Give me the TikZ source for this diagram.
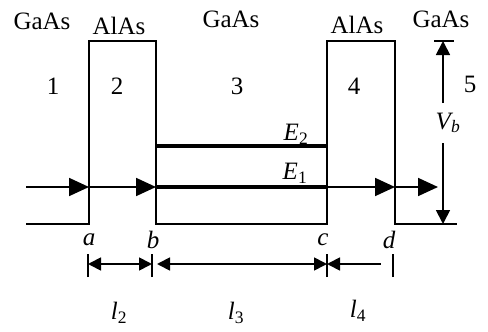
\documentclass[tikz,border=0pt]{standalone}
\usepackage{fontspec}
\setmainfont{Liberation Serif}
\usetikzlibrary{arrows.meta, positioning}
\tikzset{
    >={Triangle[length=20pt,width=18pt]},
    % Lines
    wall/.style={line width=1.8pt},
    level/.style={line width=4pt},
    beam/.style={->, line width=1.8pt},
    tick/.style={line width=1.8pt},
    vline/.style={line width=1.8pt, -{Triangle[length=14pt,width=14pt]}},
    dimarr/.style={line width=1.8pt, {Triangle[length=13pt,width=13pt]}-{Triangle[length=13pt,width=13pt]}},
    dimone/.style={line width=1.8pt, {Triangle[length=13pt,width=13pt]}-},
    % Labels
    lbl/.style={font=\fontsize{25}{28}\selectfont, inner sep=0pt},
    ilbl/.style={font=\fontsize{25}{28}\selectfont\itshape, inner sep=0pt}
}

\begin{document}
\begin{tikzpicture}[x=1pt, y=-1pt]
\useasboundingbox (0,0) rectangle (488,332);

% corners of the profile
\coordinate (a) at (89,224);
\coordinate (b) at (156,224);
\coordinate (c) at (327,224);
\coordinate (d) at (395,224);

% potential profile
\draw[wall] (26,224) -- (a) -- (89,41) -- (156,41) -- (b) -- (c)
    -- (327,41) -- (395,41) -- (d) -- (457,224);

% levels
\coordinate (e2l) at (156,146);
\coordinate (e2r) at (327,146);
\draw[level] (e2l) -- (e2r);
\coordinate (in) at (26,187);
\coordinate (a1) at (89,187);
\coordinate (b1) at (156,187);
\coordinate (c1) at (327,187);
\coordinate (d1) at (395,187);
\coordinate (out) at (438,187);
\draw[beam] (in) -- (a1);
\draw[beam] (a1) -- (b1);
\draw[level] (b1) -- (c1);
\draw[beam] (c1) -- (d1);
\draw[beam] (d1) -- (out);

% materials
\node[lbl] (m1) at (42,21) {GaAs};
\node[lbl] (m2) at (119,26) {AlAs};
\node[lbl] (m3) at (231,19) {GaAs};
\node[lbl] (m4) at (357,25) {AlAs};
\node[lbl] (m5) at (441,19) {GaAs};

% regions
\node[lbl] (r1) at (53,86) {1};
\node[lbl] (r2) at (117,86) {2};
\node[lbl] (r3) at (237,86) {3};
\node[lbl] (r4) at (354,86) {4};
\node[lbl] (r5) at (470,84) {5};

\node[ilbl] (E2) at (296,134) {E\textup{\textsubscript{2}}};
\node[ilbl] (E1) at (295,173) {E\textup{\textsubscript{1}}};

% barrier height
\coordinate (vtop) at (443,41);
\coordinate (vbot) at (443,224);
\coordinate (vup) at (443,103);
\coordinate (vdn) at (443,143);
\node[ilbl] (vb) at (448,123) {V\textsubscript{b}};
\draw[tick] (434,41) -- (454,41);
\draw[vline] (vup) -- (vtop);
\draw[vline] (vdn) -- (vbot);
\draw[wall] (d) -- (457,224);

% interfaces
\node[ilbl] (la) at (89,240) {a};
\node[ilbl] (lb) at (153,240) {b};
\node[ilbl] (lc) at (323,240) {c};
\node[ilbl] (ld) at (389,240) {d};

% lengths
\coordinate (ta) at (88,264);
\coordinate (tb) at (152,264);
\coordinate (tc) at (327,264);
\coordinate (td) at (393,264);
\foreach \t in {ta,tb,tc,td}
    \draw[tick] ([yshift=-13pt]\t) -- ([yshift=10pt]\t);
\draw[dimarr] (ta) -- (tb);
\draw[dimarr] ([xshift=5pt]tb) -- (tc);
\draw[dimone] (tc) -- (381,264);

\node[ilbl] (l2) at (119,313) {l\textup{\textsubscript{2}}};
\node[ilbl] (l3) at (236,313) {l\textup{\textsubscript{3}}};
\node[ilbl] (l4) at (358,311) {l\textup{\textsubscript{4}}};

\end{tikzpicture}
\end{document}
